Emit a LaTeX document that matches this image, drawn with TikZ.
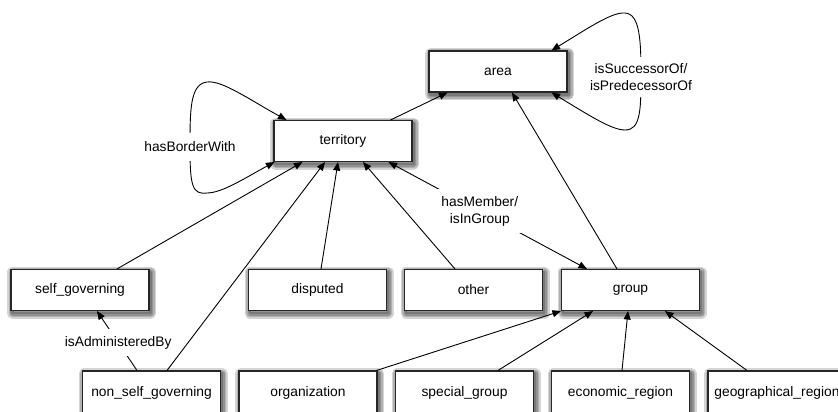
\documentclass[tikz,border=0pt]{standalone}
\usepackage{fontspec}
\setmainfont{Liberation Sans}
\usetikzlibrary{arrows.meta}

\tikzset{
  shade ring/.style={preaction={draw=black, fill=none, line width=#1,
    line join=round, opacity=0.17,
    transform canvas={shift={(1.5pt,-2.5pt)}}}},
  cls/.style={draw=black!85, line width=1.1pt, fill=white,
    minimum width=138pt, minimum height=41pt, inner sep=0pt,
    font=\fontsize{13.8}{16.5}\selectfont,
    shade ring=11pt, shade ring=8pt, shade ring=5pt, shade ring=2.5pt},
  low/.style={cls, minimum height=43pt},
  rel/.style={draw=black, line width=0.9pt,
    -{Triangle[length=8.5pt,width=7pt]}},
  birel/.style={rel, {Triangle[length=8.5pt,width=7pt]}-{Triangle[length=8.5pt,width=7pt]}},
  lbl/.style={fill=white, align=center, inner xsep=3pt, inner ysep=7pt,
    font=\fontsize{13.8}{17}\selectfont}
}

\begin{document}
\begin{tikzpicture}[x=1pt, y=-1pt]
\useasboundingbox (0,0) rectangle (838,412);

% classes
\node[cls] (area)      at (498,71.5)  {area};
\node[cls] (territory) at (343,141)   {territory};
\node[cls] (selfgov)   at (80,290)    {self\_governing};
\node[cls] (disputed)  at (317.5,290) {disputed};
\node[cls] (other)     at (473.5,290) {other};
\node[cls] (group)     at (630.5,290) {group};
\node[low] (nonself)   at (151.5,392.5) {non\_self\_governing};
\node[low] (org)       at (308,392.5)   {organization};
\node[low] (special)   at (464.5,392.5) {special\_group};
\node[low] (econ)      at (620.5,392.5) {economic\_region};
\node[low] (geo)       at (777,392.5)   {geographical\_region};

% subclass links
\draw[rel] ([xshift=-22pt]territory.north east) -- ([xshift=19pt]area.south west);
\draw[rel] ([xshift=-13.5pt]group.north) -- ([xshift=14pt]area.south);
\draw[rel] ([xshift=37pt]selfgov.north) -- ([xshift=29pt]territory.south west);
\draw[rel] ([xshift=15.5pt]nonself.north) -- ([xshift=-18pt]territory.south);
\draw[rel] ([xshift=3.5pt]disputed.north) -- ([xshift=-5pt]territory.south);
\draw[rel] ([xshift=-18.5pt]other.north) -- ([xshift=20pt]territory.south);
\draw[rel] ([xshift=-1pt]org.north east) -- (group.south west);
\draw[rel] ([xshift=33.5pt]special.north) -- ([xshift=-37.5pt]group.south);
\draw[rel] ([xshift=1.5pt]econ.north) -- ([xshift=-2.5pt]group.south);
\draw[rel] ([xshift=-30pt]geo.north) -- ([xshift=34.5pt]group.south);

% named relations
\draw[birel] ([xshift=-24pt]territory.south east) -- ([xshift=26pt]group.north west)
  node[lbl, pos=0.46] {hasMember/\\isInGroup};
\draw[rel] ([xshift=-14.5pt]nonself.north) -- ([xshift=17pt]selfgov.south)
  node[lbl, pos=0.47] {isAdministeredBy};

% self loops
\draw[birel] ([xshift=13pt]territory.north west)
  .. controls (250,100) and (222,80) .. (207,82)
  .. controls (190,84) and (190,110) .. (190,147)
  node[lbl, inner ysep=9pt] {hasBorderWith}
  .. controls (190,185) and (192,195) .. (207,193)
  .. controls (222,193) and (245,178) .. ([xshift=1pt]territory.south west);

\draw[birel] ([xshift=-16pt]area.north east)
  .. controls (590,27) and (612,12) .. (625,13)
  .. controls (640,14) and (641,40) .. (641,77)
  node[lbl, inner ysep=6pt] {isSuccessorOf/\\isPredecessorOf}
  .. controls (641,112) and (640,130) .. (625,130)
  .. controls (612,130) and (590,116) .. ([xshift=-16pt]area.south east);
\end{tikzpicture}
\end{document}
